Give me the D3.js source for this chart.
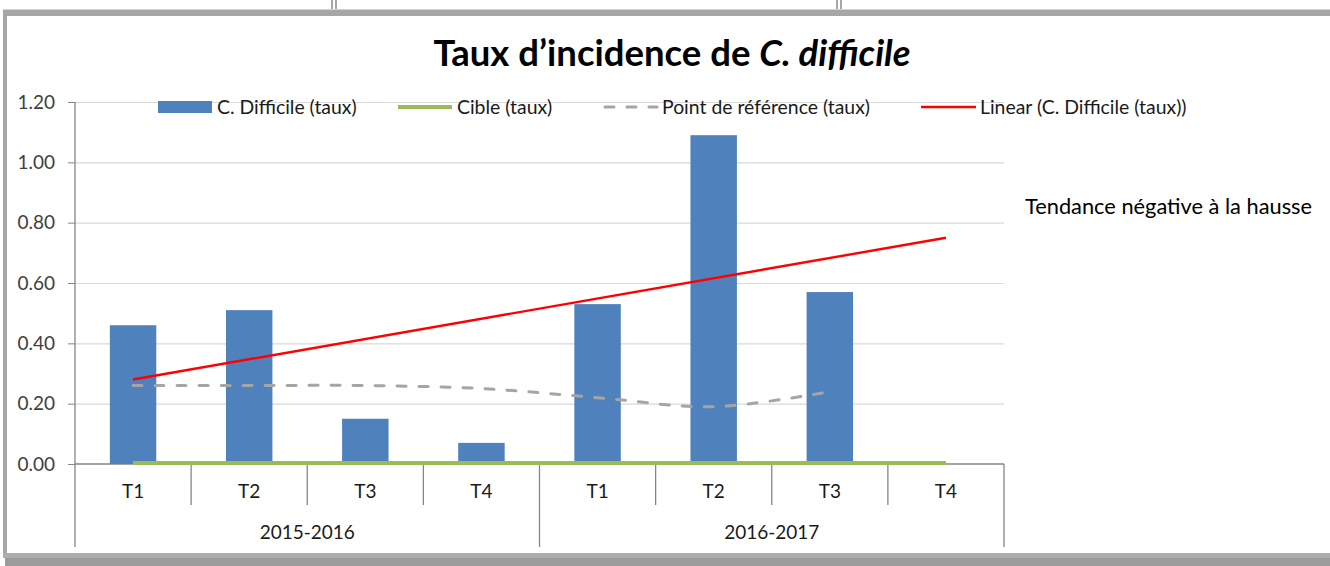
<!DOCTYPE html>
<html>
<head>
<meta charset="utf-8">
<script src="https://cdn.jsdelivr.net/npm/d3@7"></script>
<style>
  html, body { margin: 0; padding: 0; background: #ffffff; }
  svg { display: block; }
  text { font-family: Lato, "Liberation Sans", sans-serif; }
</style>
</head>
<body>
<svg id="chart" width="1330" height="566"></svg>
<script>
// ---------- data ----------
const years = ["2015-2016", "2016-2017"];
const quarters = ["T1", "T2", "T3", "T4"];
const rateValues = [0.46, 0.51, 0.15, 0.07, 0.53, 1.09, 0.57, null];   // C. Difficile (taux)
const targetValues = [0, 0, 0, 0, 0, 0, 0, 0];                          // Cible (taux)
const referenceValues = [0.26, 0.26, 0.26, 0.25, 0.22, 0.19, 0.24, null]; // Point de référence (taux)
const trendEnds = [0.28, 0.75];                                          // Linear trend at first / last category
const yTicks = [0, 0.2, 0.4, 0.6, 0.8, 1.0, 1.2];
const legendLabels = ["C. Difficile (taux)", "Cible (taux)", "Point de référence (taux)", "Linear (C. Difficile (taux))"];
const titleMain = "Taux d\u2019incidence de ";
const titleItalic = "C. difficile";
const noteText = "Tendance négative à la hausse";

// ---------- setup ----------
const svg = d3.select("#chart");
const W = 1330, H = 566;
const plot = { left: 75, right: 1004, top: 102, bottom: 464 };

const cats = [];
years.forEach(y => quarters.forEach(q => cats.push({ year: y, q: q, key: y + "|" + q })));

const x = d3.scaleBand().domain(cats.map(c => c.key)).range([plot.left, plot.right]).padding(0);
const y = d3.scaleLinear().domain([0, 1.2]).range([plot.bottom, plot.top]);
const cx = i => x(cats[i].key) + x.bandwidth() / 2;

// ---------- frame ----------
const frame = svg.append("g");
frame.append("rect").attr("x", 3).attr("y", 9).attr("width", W - 3).attr("height", 1).attr("fill", "#d4d4d4");
frame.append("rect").attr("x", 3).attr("y", 10).attr("width", W - 3).attr("height", 6).attr("fill", "#a6a6a6");
frame.append("rect").attr("x", 3).attr("y", 10).attr("width", 4).attr("height", 546).attr("fill", "#a6a6a6");
frame.append("rect").attr("x", 3).attr("y", 553).attr("width", W - 3).attr("height", 5).attr("fill", "#adadad");
frame.append("rect").attr("x", 5).attr("y", 558).attr("width", W - 5).attr("height", 8).attr("fill", "#9c9c9c");
[332, 336, 837, 841].forEach(px => {
  frame.append("rect").attr("x", px - 0.75).attr("y", 0).attr("width", 1.5).attr("height", 9).attr("fill", "#8a8a8a");
});

// ---------- title ----------
const title = svg.append("text")
  .attr("x", 672).attr("y", 66)
  .attr("text-anchor", "middle")
  .attr("font-size", 36.5).attr("font-weight", "bold").attr("fill", "#000");
title.append("tspan").text(titleMain);
title.append("tspan").attr("font-style", "italic").text(titleItalic);

// ---------- gridlines ----------
svg.append("g")
  .attr("transform", `translate(${plot.left},0)`)
  .call(d3.axisLeft(y).tickValues(yTicks.filter(v => v > 0)).tickSize(-(plot.right - plot.left)).tickFormat(""))
  .call(g => g.select(".domain").remove())
  .call(g => g.selectAll("line").attr("stroke", "#d9d9d9").attr("stroke-width", 1.2));

// ---------- y axis ----------
const yAxis = svg.append("g")
  .attr("transform", `translate(${plot.left},0)`)
  .call(d3.axisLeft(y).tickValues(yTicks).tickFormat(d3.format(".2f")).tickSize(7).tickSizeOuter(0).tickPadding(13));
yAxis.select(".domain").remove();
yAxis.selectAll("line").attr("stroke", "#868686");
yAxis.selectAll("text").attr("font-size", 19).attr("fill", "#404040").attr("font-family", "Lato");
svg.append("line").attr("x1", plot.left).attr("x2", plot.left).attr("y1", plot.top).attr("y2", 547)
  .attr("stroke", "#868686").attr("stroke-width", 1.3);

// ---------- x axis (multi-level) ----------
const xAxis = svg.append("g")
  .attr("transform", `translate(0,${plot.bottom})`)
  .call(d3.axisBottom(x).tickSize(0).tickPadding(0).tickFormat(k => k.split("|")[1]));
xAxis.select(".domain").remove();
xAxis.selectAll("text").attr("font-size", 19).attr("fill", "#1a1a1a").attr("dy", null).attr("y", 34);
svg.append("line").attr("x1", plot.left).attr("x2", plot.right).attr("y1", plot.bottom).attr("y2", plot.bottom)
  .attr("stroke", "#868686").attr("stroke-width", 1.3);
cats.forEach((c, i) => {
  if (i === 0) return;
  const bx = x(c.key);
  const major = c.q === "T1";
  svg.append("line").attr("x1", bx).attr("x2", bx).attr("y1", plot.bottom).attr("y2", major ? 547 : 505)
    .attr("stroke", "#868686").attr("stroke-width", 1.3);
});
svg.append("line").attr("x1", plot.right).attr("x2", plot.right).attr("y1", plot.bottom).attr("y2", 547)
  .attr("stroke", "#868686").attr("stroke-width", 1.3);
years.forEach(yr => {
  const first = x(yr + "|T1"), last = x(yr + "|T4") + x.bandwidth();
  svg.append("text").attr("x", (first + last) / 2).attr("y", 539)
    .attr("text-anchor", "middle").attr("font-size", 19).attr("fill", "#1a1a1a").text(yr);
});

// ---------- bars ----------
const barW = x.bandwidth() * 0.4;
svg.append("g").selectAll("rect")
  .data(rateValues.map((v, i) => ({ v, i })).filter(d => d.v !== null))
  .join("rect")
  .attr("x", d => cx(d.i) - barW / 2)
  .attr("width", barW)
  .attr("y", d => y(d.v))
  .attr("height", d => y(0) - y(d.v))
  .attr("fill", "#4f81bd");

// ---------- target line ----------
svg.append("path")
  .datum(targetValues.map((v, i) => ({ v, i })))
  .attr("d", d3.line().x(d => cx(d.i)).y(d => y(d.v) - 1))
  .attr("fill", "none").attr("stroke", "#9bbb59").attr("stroke-width", 4);

// ---------- reference (dashed, smoothed) ----------
svg.append("path")
  .datum(referenceValues.map((v, i) => ({ v, i })).filter(d => d.v !== null))
  .attr("d", d3.line().x(d => cx(d.i)).y(d => y(d.v)).curve(d3.curveCatmullRom.alpha(0.5)))
  .attr("fill", "none").attr("stroke", "#a5a5a5").attr("stroke-width", 3)
  .attr("stroke-dasharray", "9,13").attr("stroke-linecap", "round");

// ---------- linear trend ----------
svg.append("path")
  .datum([{ i: 0, v: trendEnds[0] }, { i: cats.length - 1, v: trendEnds[1] }])
  .attr("d", d3.line().x(d => cx(d.i)).y(d => y(d.v)))
  .attr("fill", "none").attr("stroke", "#ff0000").attr("stroke-width", 2.4);

// ---------- legend ----------
const legendY = 107;
const legendItems = [
  { x: 158, label: legendLabels[0], type: "rect" },
  { x: 398, label: legendLabels[1], type: "green" },
  { x: 603, label: legendLabels[2], type: "dash" },
  { x: 921, label: legendLabels[3], type: "red" }
];
const lg = svg.append("g");
legendItems.forEach(it => {
  if (it.type === "rect") {
    lg.append("rect").attr("x", it.x).attr("y", legendY - 6).attr("width", 54).attr("height", 12).attr("fill", "#4f81bd");
  } else if (it.type === "green") {
    lg.append("line").attr("x1", it.x).attr("x2", it.x + 54).attr("y1", legendY).attr("y2", legendY)
      .attr("stroke", "#9bbb59").attr("stroke-width", 4);
  } else if (it.type === "dash") {
    lg.append("line").attr("x1", it.x + 2).attr("x2", it.x + 54).attr("y1", legendY).attr("y2", legendY)
      .attr("stroke", "#a5a5a5").attr("stroke-width", 3).attr("stroke-dasharray", "9,13").attr("stroke-linecap", "round");
  } else {
    lg.append("line").attr("x1", it.x).attr("x2", it.x + 55).attr("y1", legendY).attr("y2", legendY)
      .attr("stroke", "#ff0000").attr("stroke-width", 2.4);
  }
  lg.append("text").attr("x", it.x + 59).attr("y", legendY + 6.5)
    .attr("font-size", 19.4).attr("fill", "#1a1a1a").text(it.label);
});

// ---------- note ----------
svg.append("text").attr("x", 1025).attr("y", 214).attr("font-size", 21.8).attr("fill", "#000").text(noteText);
</script>
</body>
</html>
